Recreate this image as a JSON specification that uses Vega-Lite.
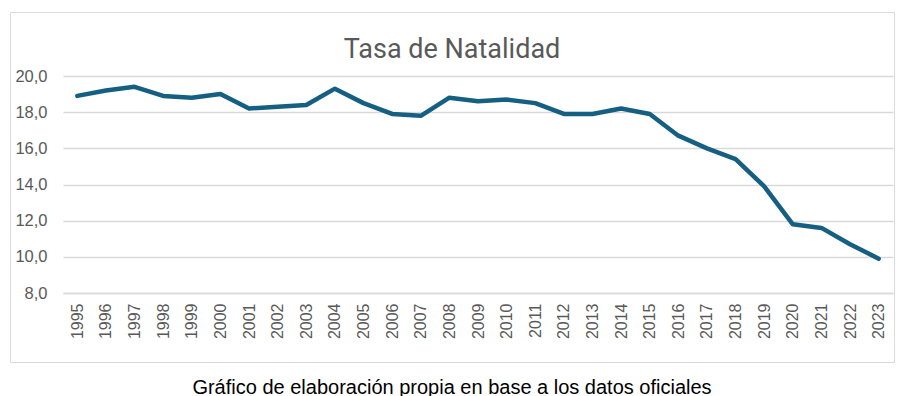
{
  "$schema": "https://vega.github.io/schema/vega-lite/v6.json",
  "width": 884,
  "height": 350,
  "autosize": {"type": "none"},
  "padding": {"left": 10, "top": 12, "right": 10, "bottom": 34},
  "background": "white",
  "title": {
    "text": "Tasa de Natalidad",
    "anchor": "middle",
    "frame": "group",
    "orient": "top",
    "baseline": "alphabetic",
    "offset": -45.5,
    "dy": 27,
    "font": "Roboto",
    "fontSize": 27,
    "fontWeight": "normal",
    "color": "#595959"
  },
  "data": {
    "values": [
      {"year": "1995", "tasa": 18.9},
      {"year": "1996", "tasa": 19.2},
      {"year": "1997", "tasa": 19.4},
      {"year": "1998", "tasa": 18.9},
      {"year": "1999", "tasa": 18.8},
      {"year": "2000", "tasa": 19.0},
      {"year": "2001", "tasa": 18.2},
      {"year": "2002", "tasa": 18.3},
      {"year": "2003", "tasa": 18.4},
      {"year": "2004", "tasa": 19.3},
      {"year": "2005", "tasa": 18.5},
      {"year": "2006", "tasa": 17.9},
      {"year": "2007", "tasa": 17.8},
      {"year": "2008", "tasa": 18.8},
      {"year": "2009", "tasa": 18.6},
      {"year": "2010", "tasa": 18.7},
      {"year": "2011", "tasa": 18.5},
      {"year": "2012", "tasa": 17.9},
      {"year": "2013", "tasa": 17.9},
      {"year": "2014", "tasa": 18.2},
      {"year": "2015", "tasa": 17.9},
      {"year": "2016", "tasa": 16.7},
      {"year": "2017", "tasa": 16.0},
      {"year": "2018", "tasa": 15.4},
      {"year": "2019", "tasa": 13.9},
      {"year": "2020", "tasa": 11.8},
      {"year": "2021", "tasa": 11.6},
      {"year": "2022", "tasa": 10.7},
      {"year": "2023", "tasa": 9.9}
    ]
  },
  "mark": {
    "type": "line",
    "color": "#156082",
    "strokeWidth": 4.5,
    "strokeCap": "round",
    "strokeJoin": "round"
  },
  "encoding": {
    "x": {
      "field": "year",
      "type": "ordinal",
      "scale": {"type": "point", "padding": 0.5, "range": [53, 883]},
      "axis": {
        "title": "Gráfico de elaboración propia en base a los datos oficiales",
        "titleFont": "Liberation Sans",
        "titleFontSize": 20,
        "titleFontWeight": "normal",
        "titleColor": "#000000",
        "titleBaseline": "alphabetic",
        "titleAlign": "center",
        "titleAnchor": null,
        "titleX": 441.5,
        "titleY": 100,
        "offset": -69,
        "labelAngle": 270,
        "labelAlign": "right",
        "labelBaseline": "middle",
        "labelPadding": 10,
        "labelFont": "Liberation Sans",
        "labelFontSize": 16,
        "labelColor": "#595959",
        "ticks": false,
        "tickSize": 0,
        "domain": true,
        "domainColor": "#d9d9d9",
        "domainWidth": 1.5,
        "grid": false
      }
    },
    "y": {
      "field": "tasa",
      "type": "quantitative",
      "scale": {"domain": [8, 20], "range": [281, 64], "nice": false, "zero": false},
      "axis": {
        "title": null,
        "values": [8, 10, 12, 14, 16, 18, 20],
        "labelExpr": "replace(format(datum.value, '.1f'), '.', ',')",
        "offset": -53,
        "labelPadding": 16,
        "labelFont": "Liberation Sans",
        "labelFontSize": 16.5,
        "labelColor": "#595959",
        "ticks": false,
        "tickSize": 0,
        "domain": false,
        "grid": true,
        "gridColor": "#d9d9d9",
        "gridWidth": 1.5
      }
    }
  },
  "config": {
    "view": {"stroke": "#d9d9d9", "strokeWidth": 1}
  }
}
